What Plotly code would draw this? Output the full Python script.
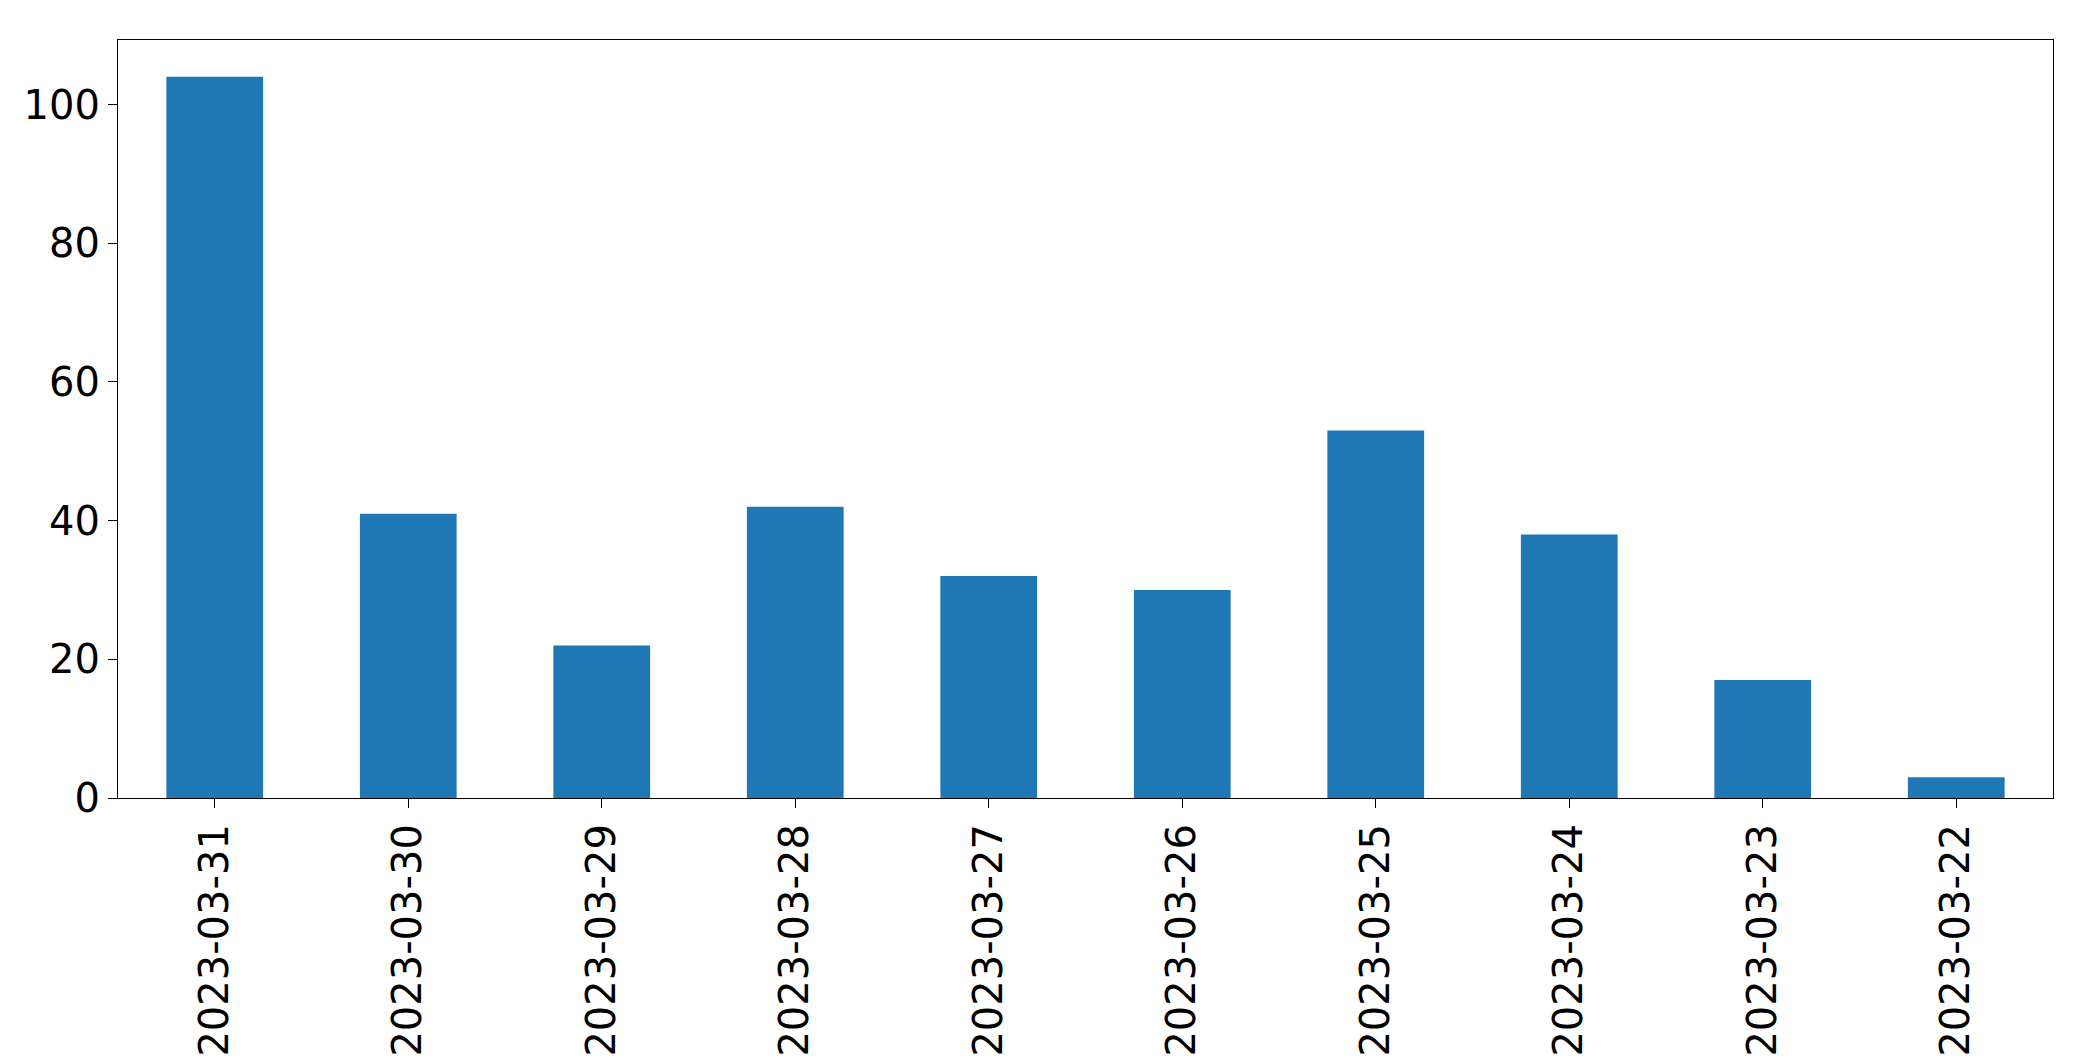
import plotly.graph_objects as go

dates = ["2023-03-31", "2023-03-30", "2023-03-29", "2023-03-28", "2023-03-27",
         "2023-03-26", "2023-03-25", "2023-03-24", "2023-03-23", "2023-03-22"]
counts = [104, 41, 22, 42, 32, 30, 53, 38, 17, 3]

fig = go.Figure(go.Bar(x=dates, y=counts, marker_color="#1f77b4", marker_line_width=0))

axis_style = dict(showline=True, linecolor="black", linewidth=1.3, mirror=True,
                  ticks="outside", ticklen=9, tickwidth=1.3, tickcolor="black",
                  showgrid=False, zeroline=False,
                  tickfont=dict(family="DejaVu Sans", size=40, color="black"))
fig.update_xaxes(type="category", range=[-0.5, 9.5], tickangle=-90, **axis_style)
fig.update_yaxes(range=[0, 109.3], tickvals=[0, 20, 40, 60, 80, 100], **axis_style)
fig.update_layout(width=2093, height=1061, bargap=0.5, showlegend=False,
                  plot_bgcolor="white", paper_bgcolor="white",
                  margin=dict(l=110, r=48, t=32, b=260))
fig.write_html("out.html")
